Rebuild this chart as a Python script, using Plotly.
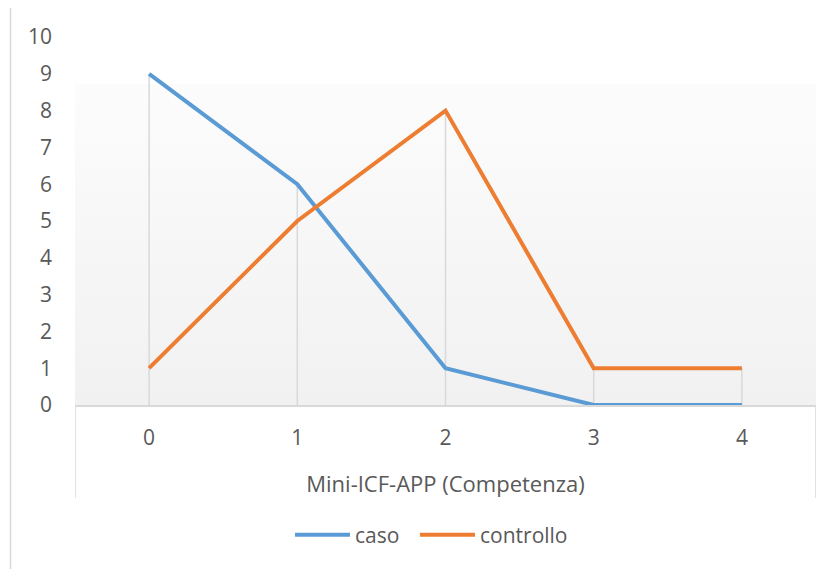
import plotly.graph_objects as go

categories = [0, 1, 2, 3, 4]
caso = [9, 6, 1, 0, 0]
controllo = [1, 5, 8, 1, 1]
y_ticks = [0, 1, 2, 3, 4, 5, 6, 7, 8, 9, 10]
x_title = "Mini-ICF-APP (Competenza)"

BLUE = "#5b9bd5"
ORANGE = "#ed7d31"
GRID = "#d9d9d9"
TEXT = "#595959"
FONT = "Open Sans"
FS = 21

fig = go.Figure()

# gradient plot-area background
fig.add_trace(go.Scatter(
    x=[-0.5, 4.5, 4.5, -0.5, -0.5], y=[0, 0, 8.72, 8.72, 0],
    mode="lines", line=dict(width=0), fill="toself",
    fillgradient=dict(type="vertical",
                      colorscale=[[0, "#f1f1f1"], [1, "#fcfcfc"]]),
    hoverinfo="skip", showlegend=False))

# drop lines from the highest point of each category
dx, dy = [], []
for c, a, b in zip(categories, caso, controllo):
    dx += [c, c, None]
    dy += [0, max(a, b), None]
fig.add_trace(go.Scatter(x=dx, y=dy, mode="lines",
                         line=dict(color=GRID, width=1.5),
                         hoverinfo="skip", showlegend=False))

fig.add_trace(go.Scatter(x=categories, y=caso, mode="lines", name="caso",
                         line=dict(color=BLUE, width=4), legend="legend"))
fig.add_trace(go.Scatter(x=categories, y=controllo, mode="lines", name="controllo",
                         line=dict(color=ORANGE, width=4), legend="legend2"))

OFF = 8  # page offset of the figure
W, H = 835 - OFF, 569 - OFF
L, T = 75 - OFF, 37 - OFF
R = W - (816 - OFF)
B = H - (405 - OFF)
pw, ph = W - L - R, H - T - B

def px_x(p):
    return (p - OFF - L) / pw

def px_y(p):
    return (H - B - (p - OFF)) / ph

shapes = [
    dict(type="line", xref="x", yref="paper", x0=-0.5, x1=-0.5,
         y0=0, y1=px_y(498), line=dict(color=GRID, width=1.5)),
    dict(type="line", xref="x", yref="paper", x0=4.5, x1=4.5,
         y0=0, y1=px_y(498), line=dict(color=GRID, width=1.5)),
    dict(type="line", xref="paper", yref="paper", x0=px_x(10.5), x1=px_x(10.5),
         y0=px_y(8), y1=px_y(569), line=dict(color=GRID, width=1.5)),
]

leg_common = dict(orientation="h", xanchor="left", y=px_y(535), yanchor="middle",
                  font=dict(size=FS, color=TEXT), itemwidth=55,
                  bgcolor="rgba(0,0,0,0)")

fig.update_layout(
    width=W, height=H,
    margin=dict(l=L, r=R, t=T, b=B, pad=0),
    paper_bgcolor="white", plot_bgcolor="white",
    font=dict(family=FONT, size=FS, color=TEXT),
    shapes=shapes,
    showlegend=True,
    legend=dict(x=px_x(290), **leg_common),
    legend2=dict(x=px_x(415), **leg_common),
    xaxis=dict(range=[-0.5, 4.5], tickmode="array", tickvals=categories,
               ticktext=[str(c) for c in categories], showgrid=False,
               zeroline=False, showline=True, linecolor=GRID, linewidth=2,
               ticks="", ticklabelstandoff=13,
               title=dict(text=x_title, standoff=26, font=dict(size=22, color=TEXT)),
               fixedrange=True),
    yaxis=dict(range=[0, 10], tickmode="array", tickvals=y_ticks,
               ticktext=[str(v) for v in y_ticks], showgrid=False,
               zeroline=False, showline=False, ticks="",
               ticklabelstandoff=22, fixedrange=True),
)

fig.write_html("out.html")
